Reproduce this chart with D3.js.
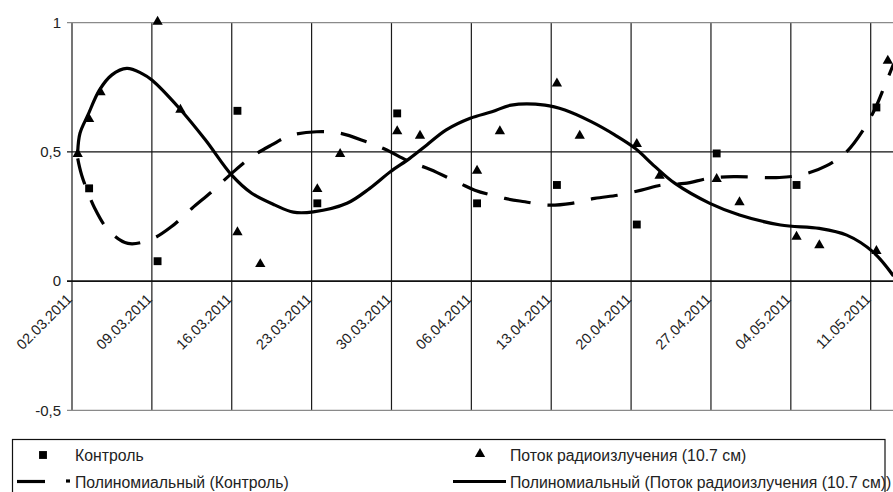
<!DOCTYPE html>
<html>
<head>
<meta charset="utf-8">
<script src="https://cdn.jsdelivr.net/npm/d3@7"></script>
<style>
  body { margin: 0; background: #fff; }
  svg { display: block; font-family: "Liberation Sans", Arial, sans-serif; }
</style>
</head>
<body>
<svg id="chart" width="893" height="492"></svg>
<script>
// data
const startDate = "02.03.2011";
const endDate = "18.05.2011";
const yTicks = [-0.5, 0, 0.5, 1];

const controlDates = ["03.03.2011", "09.03.2011", "16.03.2011", "23.03.2011", "30.03.2011", "06.04.2011",
  "13.04.2011", "20.04.2011", "27.04.2011", "04.05.2011", "11.05.2011"];
const controlValues = [0.359, 0.077, 0.659, 0.301, 0.649, 0.301, 0.372, 0.219, 0.494, 0.372, 0.672];

const fluxDates = ["02.03.2011", "03.03.2011", "04.03.2011", "09.03.2011", "11.03.2011", "16.03.2011",
  "18.03.2011", "23.03.2011", "25.03.2011", "30.03.2011", "01.04.2011", "06.04.2011", "08.04.2011",
  "13.04.2011", "15.04.2011", "20.04.2011", "22.04.2011", "27.04.2011", "29.04.2011", "04.05.2011",
  "06.05.2011", "11.05.2011", "12.05.2011"];
const fluxValues = [0.488, 0.623, 0.727, 1.0, 0.659, 0.185, 0.062, 0.352, 0.488, 0.576, 0.559, 0.423,
  0.576, 0.761, 0.559, 0.527, 0.404, 0.391, 0.301, 0.168, 0.135, 0.113, 0.849];

// trend lines (polynomial): day offset from 02.03.2011, value
const controlTrendDays = [0, 0.35, 1.5, 2.7, 4.4, 6.5, 8.2, 10, 11.75, 13.5, 15.25, 17, 18.6, 20.95, 23,
  25.3, 26.9, 29.1, 30.9, 33.5, 34.8, 37.45, 39.2, 41.2, 43.3, 45.3, 47.4, 49.4, 51.2, 53.2, 55.4,
  57.5, 61.5, 63.6, 65.6, 67.4, 68.85, 69.9, 70.75, 71.5];
const controlTrendValues = [0.475, 0.41, 0.281, 0.197, 0.146, 0.163, 0.21, 0.281, 0.346, 0.417, 0.481,
  0.527, 0.563, 0.578, 0.572, 0.539, 0.511, 0.462, 0.432, 0.378, 0.352, 0.32, 0.307, 0.294, 0.301,
  0.32, 0.333, 0.352, 0.372, 0.378, 0.398, 0.404, 0.401, 0.413, 0.446, 0.501, 0.585, 0.669, 0.759, 0.84];

const fluxTrendDays = [0, 0.2, 0.9, 1.9, 3, 4.3, 5.6, 6.5, 8.9, 11.2, 13.5, 15.25, 17.3, 18.9, 20.65,
  23.6, 25.6, 27.4, 29.1, 30.6, 32.3, 34.4, 36.3, 38, 40.95, 42.7, 45, 47.1, 48.85, 50.6, 52.35,
  55.4, 58, 61.6, 65, 67.4, 69.7, 71.5];
const fluxTrendValues = [0.5, 0.572, 0.643, 0.739, 0.798, 0.823, 0.804, 0.778, 0.669, 0.546, 0.41, 0.34,
  0.294, 0.267, 0.268, 0.301, 0.359, 0.423, 0.475, 0.527, 0.585, 0.63, 0.655, 0.681, 0.681, 0.662,
  0.617, 0.565, 0.514, 0.443, 0.378, 0.301, 0.256, 0.217, 0.204, 0.178, 0.113, 0.02];

const legendLabels = ["Контроль", "Поток радиоизлучения (10.7 см)",
  "Полиномиальный (Контроль)", "Полиномиальный (Поток радиоизлучения (10.7 см))"];

const parse = d3.timeParse("%d.%m.%Y");
const fmt = d3.timeFormat("%d.%m.%Y");
const DAY = 864e5;

const svg = d3.select("#chart");
const plotLeft = 72, plotTop = 22.7, plotBottom = 410.3;
const t0 = parse(startDate), t1 = parse(endDate);
const x = d3.scaleTime().domain([t0, t1]).range([plotLeft, plotLeft + d3.timeDay.count(t0, t1) * 11.41]);
const y = d3.scaleLinear().domain([-0.5, 1]).range([plotBottom, plotTop]);

// points sit in the middle of their day
const xDay = d => x(new Date(t0.getTime() + (d + 0.5) * DAY));
const xDate = s => x(new Date(parse(s).getTime() + 0.5 * DAY));

const weekTicks = d3.range(0, 78, 7).map(k => d3.timeDay.offset(t0, k));
const shownTicks = weekTicks.filter(d => x(d) < 893);

// grid
const grid = svg.append("g");
grid.selectAll(".vg").data(shownTicks).enter().append("line")
  .attr("x1", d => x(d)).attr("x2", d => x(d))
  .attr("y1", plotTop).attr("y2", plotBottom)
  .attr("stroke", "#1a1a1a").attr("stroke-width", 1.2);
grid.selectAll(".hg").data(yTicks).enter().append("line")
  .attr("x1", plotLeft - 5).attr("x2", 893)
  .attr("y1", d => y(d)).attr("y2", d => y(d))
  .attr("stroke", d => (d === 1 || d === -0.5) ? "#8a8a8a" : "#111")
  .attr("stroke-width", d => (d === 0) ? 1.6 : 1.2);

// y labels
svg.append("g").selectAll("text").data(yTicks).enter().append("text")
  .attr("x", 61).attr("y", d => y(d)).attr("dy", "0.35em")
  .attr("text-anchor", "end").attr("font-size", 15).attr("fill", "#222")
  .text(d => d3.format(".1~f")(d).replace(".", ",").replace("−", "-"));

// x labels
svg.append("g").selectAll("text").data(shownTicks).enter().append("text")
  .attr("transform", d => `translate(${x(d) + 1},${300}) rotate(-45)`)
  .attr("text-anchor", "end").attr("font-size", 14.5).attr("fill", "#222")
  .text(d => fmt(d));

// trend lines
const line = d3.line().curve(d3.curveCatmullRom.alpha(0.5));
svg.append("path")
  .attr("d", line(controlTrendDays.map((d, i) => [xDay(d), y(controlTrendValues[i])])))
  .attr("fill", "none").attr("stroke", "#000").attr("stroke-width", 3.2)
  .attr("stroke-dasharray", "27,17");
svg.append("path")
  .attr("d", line(fluxTrendDays.map((d, i) => [xDay(d), y(fluxTrendValues[i])])))
  .attr("fill", "none").attr("stroke", "#000").attr("stroke-width", 3.2);

// markers
const sq = d3.symbol().type(d3.symbolSquare).size(62);
const tri = d3.symbol().type(d3.symbolTriangle).size(46);
svg.append("g").selectAll("path").data(controlDates).enter().append("path")
  .attr("d", sq).attr("fill", "#000")
  .attr("transform", (d, i) => `translate(${xDate(d)},${y(controlValues[i])})`);
svg.append("g").selectAll("path").data(fluxDates).enter().append("path")
  .attr("d", tri).attr("fill", "#000")
  .attr("transform", (d, i) => `translate(${xDate(d)},${y(fluxValues[i]) - 1})`);

// legend
const lg = svg.append("g");
lg.append("rect").attr("x", 12.5).attr("y", 439.5).attr("width", 872.5).attr("height", 80)
  .attr("fill", "#fff").attr("stroke", "#111").attr("stroke-width", 1.2);
lg.append("path").attr("d", sq).attr("transform", "translate(43,455)");
lg.append("path").attr("d", tri).attr("transform", "translate(480,454)");
lg.append("line").attr("x1", 17).attr("x2", 45).attr("y1", 481.5).attr("y2", 481.5)
  .attr("stroke", "#000").attr("stroke-width", 3.2);
lg.append("line").attr("x1", 66).attr("x2", 70).attr("y1", 481).attr("y2", 481)
  .attr("stroke", "#000").attr("stroke-width", 3.2);
lg.append("line").attr("x1", 453).attr("x2", 506).attr("y1", 481.5).attr("y2", 481.5)
  .attr("stroke", "#000").attr("stroke-width", 3.2);
const lgPos = [[75, 455], [510, 455], [75, 482], [510, 482]];
lg.selectAll("text").data(legendLabels).enter().append("text")
  .attr("x", (d, i) => lgPos[i][0]).attr("y", (d, i) => lgPos[i][1]).attr("dy", "0.35em")
  .attr("font-size", 15.8).attr("fill", "#222")
  .text(d => d);
</script>
</body>
</html>
